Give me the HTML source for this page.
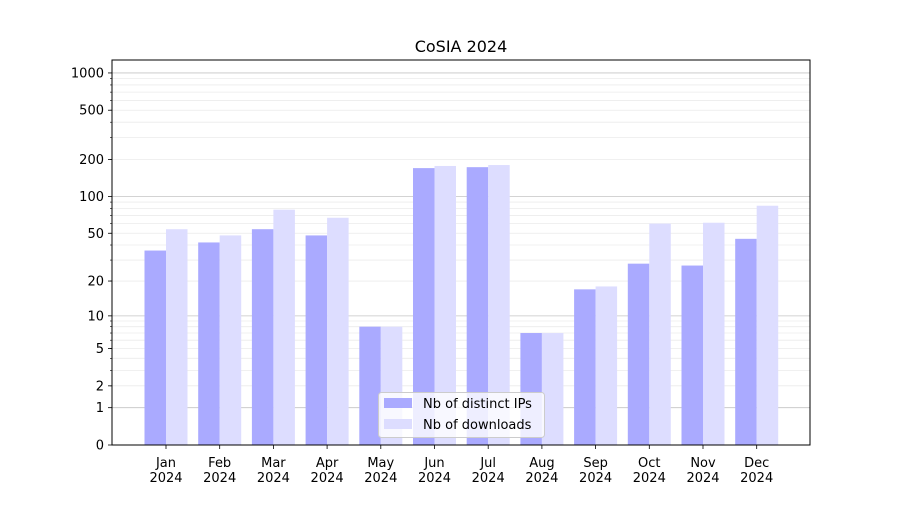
<!DOCTYPE html>
<html><head><meta charset="utf-8"><style>
html,body{margin:0;padding:0;background:#fff;}
svg text{font-family:"DejaVu Sans","Liberation Sans",sans-serif;}
</style></head><body>
<svg id="s" width="900" height="500" xmlns="http://www.w3.org/2000/svg"></svg>
<script>
const s=document.getElementById('s');
const Y=v=>445-124*Math.log10(1+v);
let h='<rect width="900" height="500" fill="#fff"/>';
// grid
const minors=[];
for(const d of [1,10,100,1000]) for(let k=2;k<=9;k++){const v=k*d; if(Y(v)>60) minors.push(v);}
for(const v of minors) h+=`<line x1="112" x2="810" y1="${Y(v)}" y2="${Y(v)}" stroke="#ebebeb" stroke-width="0.8"/>`;
for(const v of [1,10,100,1000]) h+=`<line x1="112" x2="810" y1="${Y(v)}" y2="${Y(v)}" stroke="#c4c4c4" stroke-width="0.8"/>`;
const dark=[36,42,54,48,8,170,173,7,17,28,27,45];
const light=[54,48,78,67,8,177,180,7,18,60,61,84];
const mon=['Jan','Feb','Mar','Apr','May','Jun','Jul','Aug','Sep','Oct','Nov','Dec'];
const w=21.5;
for(let i=0;i<12;i++){
 const c=166+i*53.7;
 h+=`<rect x="${c-w}" y="${Y(dark[i])}" width="${w}" height="${445-Y(dark[i])}" fill="#aaaaff"/>`;
 h+=`<rect x="${c}" y="${Y(light[i])}" width="${w}" height="${445-Y(light[i])}" fill="#ddddff"/>`;
 h+=`<line x1="${c}" x2="${c}" y1="445" y2="449" stroke="#000" stroke-width="0.8"/>`;
 h+=`<text x="${c}" y="467" font-size="13" text-anchor="middle">${mon[i]}</text>`;
 h+=`<text x="${c}" y="482" font-size="13" text-anchor="middle">2024</text>`;
}
for(const v of [0,1,2,5,10,20,50,100,200,500,1000]){
 const y=Y(v);
 h+=`<line x1="108" x2="112" y1="${y}" y2="${y}" stroke="#000" stroke-width="0.8"/>`;
 h+=`<text x="104" y="${y+4.5}" font-size="13" text-anchor="end">${v}</text>`;
}
for(const v of minors) h+=`<line x1="110" x2="112" y1="${Y(v)}" y2="${Y(v)}" stroke="#000" stroke-width="0.6"/>`;
h+='<rect x="112" y="60" width="698" height="385" fill="none" stroke="#000" stroke-width="1"/>';
h+='<text x="461" y="52" font-size="16" text-anchor="middle">CoSIA 2024</text>';
// legend
h+='<rect x="378.5" y="392.5" width="166" height="45" rx="3" fill="#fff" fill-opacity="0.8" stroke="#ccc" stroke-width="1"/>';
h+='<rect x="384" y="398" width="28" height="10" fill="#aaaaff"/>';
h+='<rect x="384" y="419" width="28" height="10" fill="#ddddff"/>';
h+='<text x="423" y="408" font-size="13">Nb of distinct IPs</text>';
h+='<text x="423" y="429" font-size="13">Nb of downloads</text>';
s.innerHTML=h;
</script>
</body></html>
